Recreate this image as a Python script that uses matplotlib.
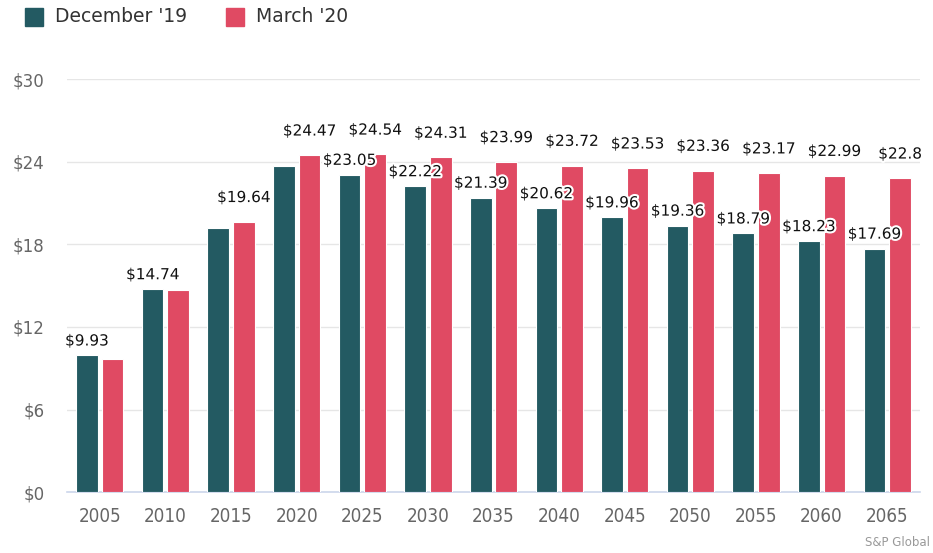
import numpy as np
import matplotlib
matplotlib.use("Agg")
import matplotlib.pyplot as plt
import matplotlib.patheffects as pe
from matplotlib.patches import Rectangle

years = ["2005", "2010", "2015", "2020", "2025", "2030", "2035",
         "2040", "2045", "2050", "2055", "2060", "2065"]
dec19 = [9.93, 14.74, 19.2, 23.7, 23.05, 22.22, 21.39,
         20.62, 19.96, 19.36, 18.79, 18.23, 17.69]
mar20 = [9.7, 14.65, 19.64, 24.47, 24.54, 24.31, 23.99,
         23.72, 23.53, 23.36, 23.17, 22.99, 22.8]
# which data labels survive overlap hiding in the original
dec19_shown = [1, 1, 0, 0, 1, 1, 1, 1, 1, 1, 1, 1, 1]
mar20_shown = [0, 0, 1, 1, 1, 1, 1, 1, 1, 1, 1, 1, 1]
yticks = [0, 6, 12, 18, 24, 30]

DEC_COLOR = "#235a62"
MAR_COLOR = "#e04a63"


def fmt(v):
    return "$" + ("%.2f" % v).rstrip("0").rstrip(".")


def main():
    fig = plt.figure(figsize=(9.33, 5.53), dpi=100)
    ax = fig.add_axes([0.0718, 0.110, 0.9143, 0.747])

    x = np.arange(len(years))
    w = 0.33
    off = 0.195
    b1 = ax.bar(x - off, dec19, w, color=DEC_COLOR, edgecolor="white", linewidth=0.8, zorder=3)
    b2 = ax.bar(x + off, mar20, w, color=MAR_COLOR, edgecolor="white", linewidth=0.8, zorder=3)

    outline = [pe.withStroke(linewidth=3, foreground="white")]
    for bars, vals, shown, dy in ((b1, dec19, dec19_shown, 5), (b2, mar20, mar20_shown, 12)):
        for bar, v, s in zip(bars, vals, shown):
            if not s:
                continue
            ax.annotate(fmt(v), (bar.get_x() + bar.get_width() / 2, v),
                        xytext=(0, dy), textcoords="offset points",
                        ha="center", va="bottom", fontsize=11,
                        color="#111111", path_effects=outline, zorder=5)

    ax.set_xlim(-0.5, len(years) - 0.5)
    ax.set_ylim(0, 30)
    ax.set_yticks(yticks)
    ax.set_yticklabels(["$%d" % t for t in yticks])
    ax.set_xticks(x)
    ax.set_xticklabels(years)
    ax.grid(axis="y", color="#e6e6e6", linewidth=1, zorder=0)
    for s in ("top", "right", "left"):
        ax.spines[s].set_visible(False)
    ax.spines["bottom"].set_color("#ccd6eb")
    ax.spines["bottom"].set_linewidth(1.2)
    ax.tick_params(axis="both", length=0, colors="#666666", labelsize=12)
    ax.tick_params(axis="x", pad=11)
    ax.tick_params(axis="y", pad=16)
    for lbl in ax.get_xticklabels():
        lbl.set_fontstretch("condensed")
        lbl.set_fontsize(13.5)

    # legend at top left
    for px, col, name in ((25, DEC_COLOR, "December '19"), (226, MAR_COLOR, "March '20")):
        fig.patches.append(Rectangle((px / 933, 1 - 26 / 553), 18 / 933, 18 / 553,
                                     transform=fig.transFigure, color=col))
        fig.text((px + 30) / 933, 1 - 17 / 553, name, fontsize=13.5,
                 color="#333333", va="center", ha="left")

    fig.text(930 / 933, 1 - 543 / 553, "S&P Global", fontsize=8.5,
             color="#999999", ha="right", va="center")

    fig.savefig("out.png", dpi=100)


if __name__ == "__main__":
    main()
